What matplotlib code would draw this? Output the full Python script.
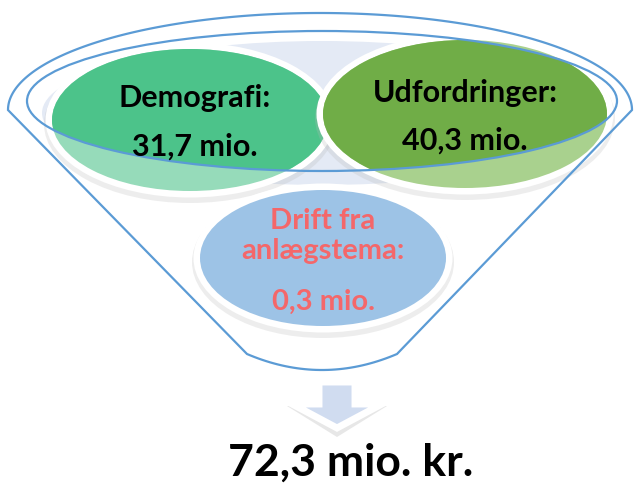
import matplotlib
matplotlib.use("Agg")
import matplotlib.pyplot as plt
import numpy as np
from matplotlib.patches import Ellipse, Polygon

plt.rcParams['font.family'] = ['Lato', 'DejaVu Sans']

labels = ["Demografi:", "Udfordringer:", "Drift fra\nanlægstema:"]
values = [31.7, 40.3, 0.3]
fills = ['#4CC38A', '#70AD47', '#9DC3E6']
fills_light = ['#96DBBA', '#A9D18E', '#9DC3E6']
text_cols = ['black', 'black', '#F4676A']
unit = "mio."
total_unit = "mio. kr."

# ellipse layout in pixels (x, y, rx, ry)
bubbles = [(190, 120, 138, 71), (465, 114, 142, 74), (323, 258, 123, 68)]
label_y = [98, 93, 236]
value_y = [147, 141, 302]

LINE = '#5B9BD5'


def fmt(v):
    return f"{v:.1f}".replace(".", ",")


fig = plt.figure(figsize=(6.34, 4.84), dpi=100)
ax = fig.add_axes([0, 0, 1, 1])
ax.set_xlim(0, 634)
ax.set_ylim(484, 0)
ax.axis('off')

# funnel rim / body
ocx, ocy, orx, ory = 320, 110, 312, 97
icx, icy, irx, iry = 322, 101, 295, 70

# light background behind the bubbles
ax.add_patch(Ellipse((322, 113), 560, 144, fc='#E4EAF5', ec='none', zorder=1))

inner_clip = Ellipse((icx, icy), 2 * irx, 2 * iry, fc='none', ec='none')
ax.add_patch(inner_clip)

for i, (x, y, rx, ry) in enumerate(bubbles):
    z = 2 + i * 4
    ax.add_patch(Ellipse((x, y + 4), 2 * rx + 16, 2 * ry + 16, fc='#B8B8B8', ec='none', alpha=0.25, zorder=z))
    ax.add_patch(Ellipse((x, y), 2 * rx + 13, 2 * ry + 13, fc='white', ec='none', zorder=z + 1))
    ax.add_patch(Ellipse((x, y), 2 * rx, 2 * ry, fc=fills_light[i], ec='none', zorder=z + 2))
    if i < 2:
        full = Ellipse((x, y), 2 * rx, 2 * ry, fc=fills[i], ec='none', zorder=z + 3)
        ax.add_patch(full)
        full.set_clip_path(inner_clip)

# funnel outline
t = np.linspace(np.pi, 0, 200)
top = np.column_stack([ocx + orx * np.cos(t), ocy - ory * np.sin(t)])
s = np.linspace(0, 1, 40)[:, None]
p0, c, p1 = np.array([397, 354]), np.array([322, 386]), np.array([247, 354])
bottom = (1 - s) ** 2 * p0 + 2 * (1 - s) * s * c + s ** 2 * p1
outline = np.vstack([top, bottom])
ax.add_patch(Polygon(outline, closed=True, fc='none', ec=LINE, lw=1.6, zorder=20))
ax.add_patch(Ellipse((icx, icy), 2 * irx, 2 * iry, fc='none', ec=LINE, lw=1.6, zorder=20))

# texts
for i, (x, y, rx, ry) in enumerate(bubbles):
    dx = 5 if i == 0 else 0
    ax.text(x + dx, label_y[i], labels[i], ha='center', va='center',
            fontsize=22 if i < 2 else 21, fontweight='bold',
            color=text_cols[i], linespacing=1.2, zorder=25)
    ax.text(x + dx, value_y[i], f"{fmt(values[i])} {unit}", ha='center', va='center',
            fontsize=22 if i < 2 else 21, fontweight='bold',
            color=text_cols[i], zorder=25)

# arrow
ax_x = 337
arrow = np.array([[ax_x - 18, 382], [ax_x + 18, 382], [ax_x + 18, 404], [ax_x + 45, 404],
                  [ax_x, 428], [ax_x - 45, 404], [ax_x - 18, 404]])
head_shadow = np.array([[ax_x - 50, 406], [ax_x + 50, 406], [ax_x, 437]])
ax.add_patch(Polygon(head_shadow, closed=True, fc='#A0A0A0', ec='none', alpha=0.25, zorder=21))
ax.add_patch(Polygon(arrow, closed=True, fc='#D0DCF0', ec='white', lw=5, joinstyle='miter', zorder=22))

total = sum(values)
ax.text(351, 463, f"{fmt(total)} {total_unit}", ha='center', va='center',
        fontsize=32, fontweight='bold', color='black', zorder=25)

fig.savefig("out.png", dpi=100)
